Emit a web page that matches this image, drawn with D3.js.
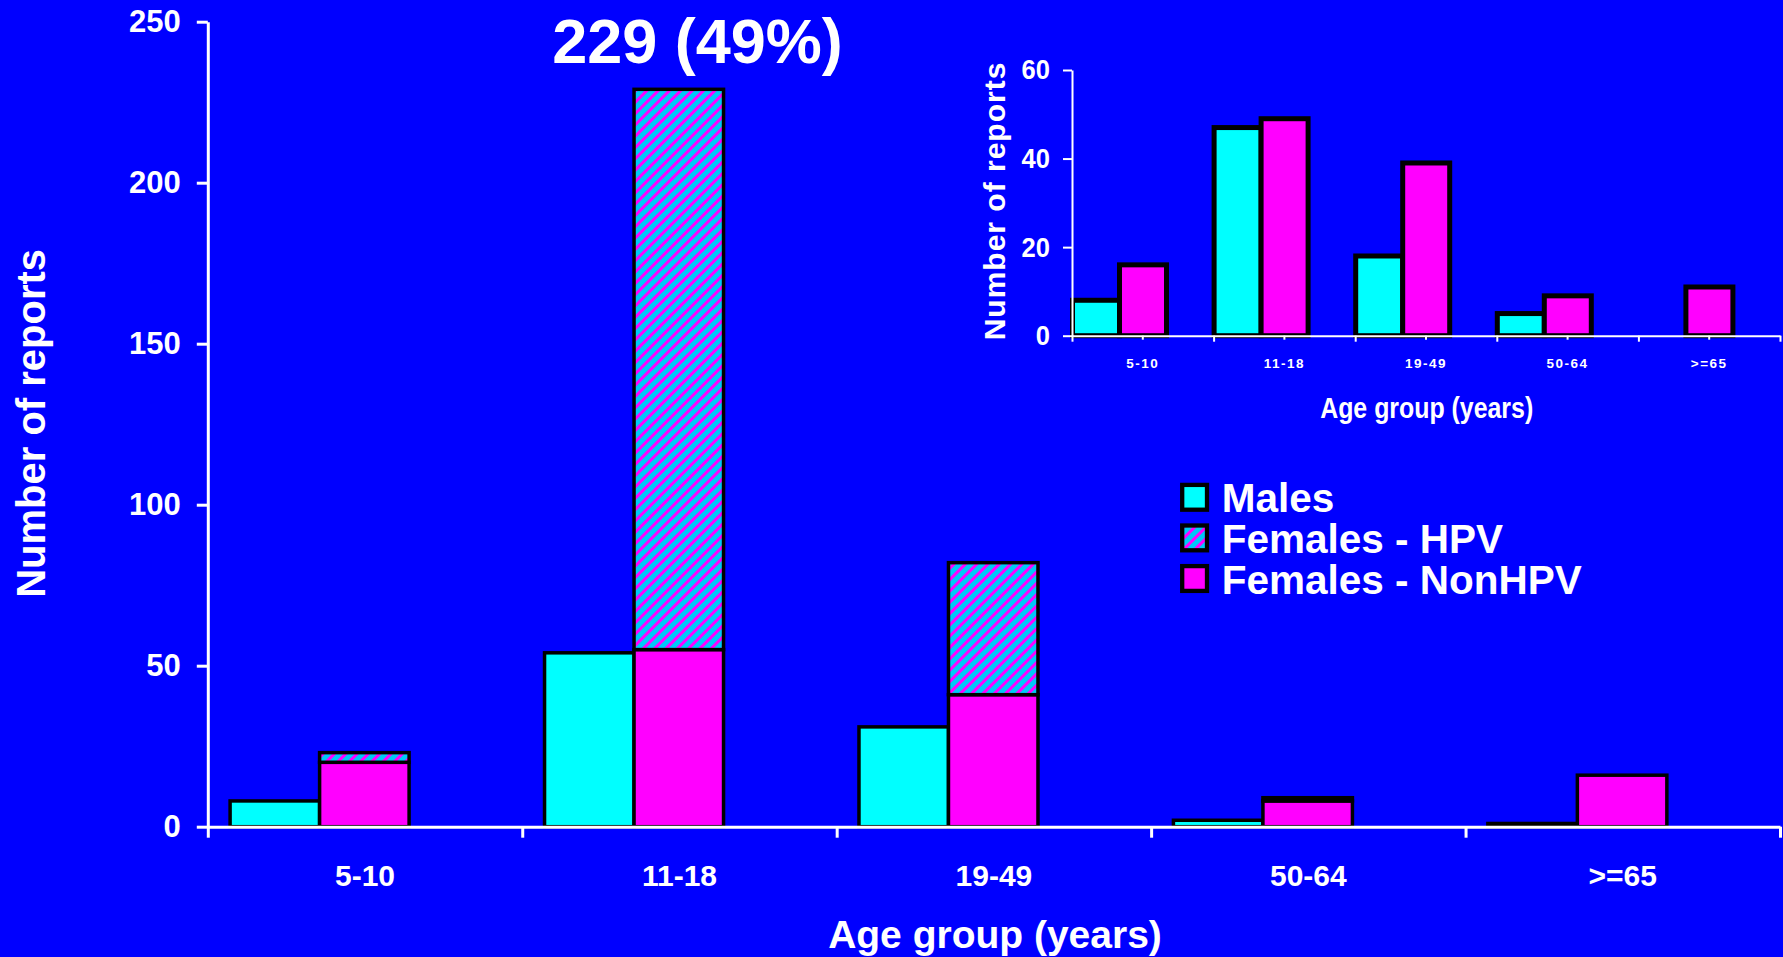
<!DOCTYPE html>
<html>
<head>
<meta charset="utf-8">
<script src="https://cdn.jsdelivr.net/npm/d3@7"></script>
<style>
  html, body { margin: 0; padding: 0; background: #0000ff; }
  svg { display: block; }
  text { font-family: "Liberation Sans", Arial, sans-serif; font-weight: bold; fill: #ffffff; }
</style>
</head>
<body>
<svg id="chart" width="1783" height="957"></svg>
<script>
// ---------- DATA ----------
const categories = ["5-10", "11-18", "19-49", "50-64", ">=65"];
const males = [8, 54, 31, 2, 1];
const femalesNonHPV = [20, 55, 41, 8, 16];
const femalesHPV = [3, 174, 41, 1, 0];
const mainYTicks = [0, 50, 100, 150, 200, 250];

const insetMales = [8, 47, 18, 5, 0];
const insetFemales = [16, 49, 39, 9, 11];
const insetYTicks = [0, 20, 40, 60];

const legendLabels = ["Males", "Females - HPV", "Females - NonHPV"];
const annotation = "229 (49%)";

// ---------- STYLE ----------
const CYAN = "#00ffff", MAGENTA = "#ff00ff", HATCHBASE = "#00c8f8";

const svg = d3.select("#chart");
svg.append("rect").attr("width", 1783).attr("height", 957).attr("fill", "#0000ff");

// hatch pattern
const defs = svg.append("defs");
const pat = defs.append("pattern").attr("id", "hatch")
  .attr("patternUnits", "userSpaceOnUse").attr("width", 8).attr("height", 8)
  .attr("patternTransform", "rotate(45)");
pat.append("rect").attr("width", 8).attr("height", 8).attr("fill", HATCHBASE);
pat.append("rect").attr("width", 3).attr("height", 8).attr("fill", MAGENTA);

// ---------- MAIN CHART ----------
const mx0 = 207.8, mx1 = 1780, my0 = 826.7, my1 = 21.7;
const x = d3.scaleBand().domain(categories).range([mx0, mx1]).padding(0);
const y = d3.scaleLinear().domain([0, 250]).range([my0, my1]);
const barOff = 22.3, barW = 89.5;

const gBars = svg.append("g").attr("stroke", "#000").attr("stroke-width", 3.5).attr("stroke-linejoin", "miter");
categories.forEach((c, i) => {
  const x0 = x(c) + barOff;
  gBars.append("rect").attr("x", x0).attr("width", barW)
    .attr("y", y(males[i])).attr("height", y(0) - y(males[i])).attr("fill", CYAN);
  gBars.append("rect").attr("x", x0 + barW).attr("width", barW)
    .attr("y", y(femalesNonHPV[i])).attr("height", y(0) - y(femalesNonHPV[i])).attr("fill", MAGENTA);
  if (femalesHPV[i] > 0) {
    const top = femalesNonHPV[i] + femalesHPV[i];
    gBars.append("rect").attr("x", x0 + barW).attr("width", barW)
      .attr("y", y(top)).attr("height", y(femalesNonHPV[i]) - y(top)).attr("fill", "url(#hatch)");
  }
});

// y axis
const yAxis = svg.append("g").attr("transform", `translate(${mx0},0)`)
  .call(d3.axisLeft(y).tickValues(mainYTicks).tickSize(11).tickSizeOuter(0).tickPadding(16));
yAxis.selectAll("path,line").attr("stroke", "#fff").attr("stroke-width", 3);
yAxis.selectAll("text").attr("fill", "#fff").style("font-size", "31px");

// x axis boundary ticks
const xi = d3.scaleLinear().domain([0, categories.length]).range([mx0, mx1]);
const xAxis = svg.append("g").attr("transform", `translate(0,${my0})`)
  .call(d3.axisBottom(xi).tickValues(d3.range(categories.length + 1)).tickSize(11).tickSizeOuter(0).tickFormat(""));
xAxis.selectAll("path,line").attr("stroke", "#fff").attr("stroke-width", 3);

// category labels
const xLab = svg.append("g").attr("transform", `translate(0,${my0})`)
  .call(d3.axisBottom(x).tickSize(0).tickPadding(38));
xLab.select(".domain").remove();
xLab.selectAll("text").attr("fill", "#fff").style("font-size", "30px");

// axis titles
svg.append("text").attr("x", 995).attr("y", 948).attr("text-anchor", "middle")
  .style("font-size", "39px").text("Age group (years)");
svg.append("text").attr("transform", "translate(45,423.4) rotate(-90)").attr("text-anchor", "middle")
  .style("font-size", "40px").text("Number of reports");

// annotation
svg.append("text").attr("x", 697.5).attr("y", 63.3).attr("text-anchor", "middle")
  .style("font-size", "63px").text(annotation);

// ---------- INSET ----------
const ix0 = 1072, ix1 = 1780, iy0 = 335.7, iy1 = 70;
const xs = d3.scaleBand().domain(categories).range([ix0, ix1]).padding(0);
const ys = d3.scaleLinear().domain([0, 60]).range([iy0, iy1]);
const iBarW = 47, iOff = 0.5;

const gIn = svg.append("g").attr("stroke", "#000").attr("stroke-width", 5);
categories.forEach((c, i) => {
  const x0 = xs(c) + iOff;
  if (insetMales[i] > 0)
    gIn.append("rect").attr("x", x0).attr("width", iBarW)
      .attr("y", ys(insetMales[i])).attr("height", ys(0) - ys(insetMales[i])).attr("fill", CYAN);
  gIn.append("rect").attr("x", x0 + iBarW).attr("width", iBarW)
    .attr("y", ys(insetFemales[i])).attr("height", ys(0) - ys(insetFemales[i])).attr("fill", MAGENTA);
});

const iyAxis = svg.append("g").attr("transform", `translate(${ix0},0)`)
  .call(d3.axisLeft(ys).tickValues(insetYTicks).tickSize(9).tickSizeOuter(0).tickPadding(13));
iyAxis.selectAll("path,line").attr("stroke", "#fff").attr("stroke-width", 2);
iyAxis.selectAll("text").attr("fill", "#fff").style("font-size", "28px")
  .attr("textLength", d => String(d).length * 14.2).attr("lengthAdjust", "spacingAndGlyphs");

const xsi = d3.scaleLinear().domain([0, categories.length]).range([ix0, ix1]);
const ixAxis = svg.append("g").attr("transform", `translate(0,${iy0})`)
  .call(d3.axisBottom(xsi).tickValues(d3.range(categories.length + 1)).tickSize(6).tickSizeOuter(0).tickFormat(""));
ixAxis.selectAll("path,line").attr("stroke", "#fff").attr("stroke-width", 2);
const ixMinor = svg.append("g").attr("transform", `translate(0,${iy0})`)
  .call(d3.axisBottom(xs).tickSize(4).tickPadding(19));
ixMinor.select(".domain").remove();
ixMinor.selectAll("line").attr("stroke", "#fff").attr("stroke-width", 2);
ixMinor.selectAll("text").attr("fill", "#fff").style("font-size", "13.5px").style("letter-spacing", "1.5px");

svg.append("text").attr("x", 1426.7).attr("y", 418.3).attr("text-anchor", "middle")
  .style("font-size", "30px").attr("textLength", 213).attr("lengthAdjust", "spacingAndGlyphs")
  .text("Age group (years)");
svg.append("text").attr("transform", "translate(1005,201) rotate(-90)").attr("text-anchor", "middle")
  .style("font-size", "30px").style("letter-spacing", "1px").text("Number of reports");

// ---------- LEGEND ----------
const legFills = [CYAN, "url(#hatch)", MAGENTA];
const leg = svg.append("g");
legendLabels.forEach((t, i) => {
  const yy = 482.7 + i * 40.6;
  leg.append("rect").attr("x", 1182.2).attr("y", yy + 2.2).attr("width", 24.8).attr("height", 24.8)
    .attr("fill", legFills[i]).attr("stroke", "#000").attr("stroke-width", 4.3);
  leg.append("text").attr("x", 1221.7).attr("y", yy + 29.6).style("font-size", "40.5px").text(t);
});
</script>
</body>
</html>
